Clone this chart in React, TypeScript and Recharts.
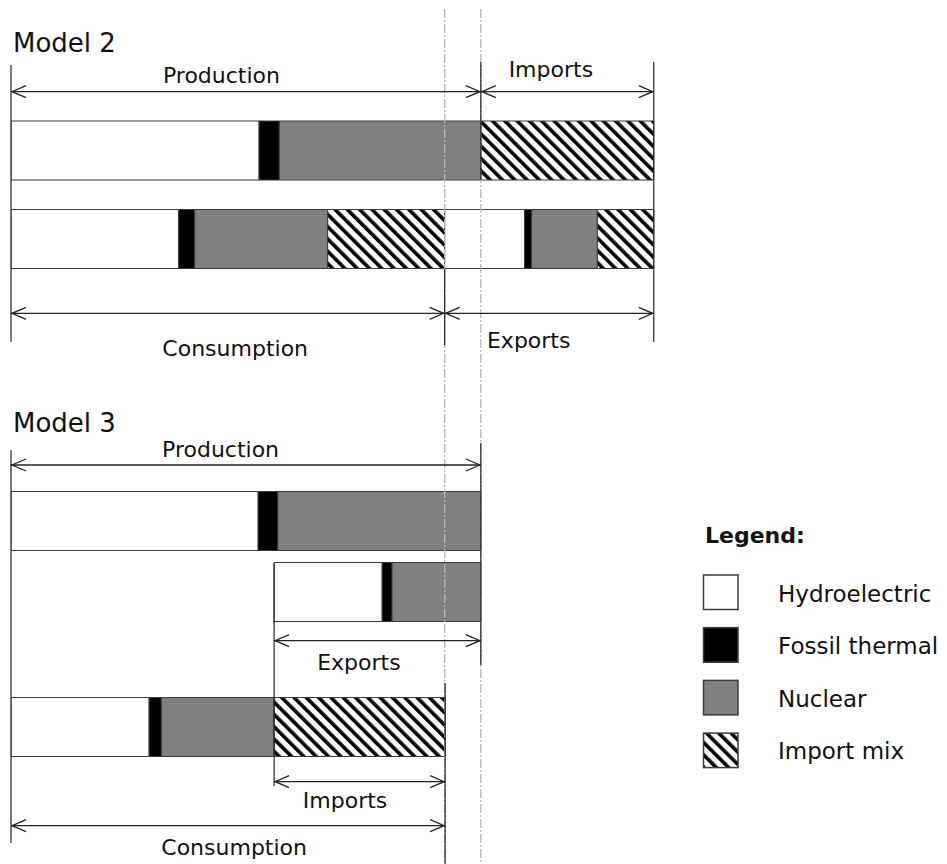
import React from 'react';
import { BarChart, Bar, XAxis, YAxis, ReferenceLine, ReferenceDot, Legend } from 'recharts';

// ---- Data (share of domestic production, production = 100) ----
const SOURCES = ['Hydroelectric', 'Fossil thermal', 'Nuclear', 'Import mix'];

// Model 2
const M2_PRODUCTION = [52.8, 4.3, 42.9]; // hydro, fossil, nuclear
const M2_IMPORTS = [36.8]; // import mix
const M2_CONSUMPTION = [35.7, 3.4, 28.3, 24.9]; // hydro, fossil, nuclear, import mix
const M2_EXPORTS = [17.0, 1.5, 14.0, 12.0];

// Model 3
const M3_PRODUCTION = [52.6, 4.2, 43.2];
const M3_EXPORTS = [23.0, 2.1, 18.9];
const M3_CONSUMPTION = [29.4, 2.6, 24.0, 36.4];

// ---- Derived totals ----
const sum = (a: number[]) => a.reduce((s, v) => s + v, 0);
const m2Prod = sum(M2_PRODUCTION);
const m2Total = m2Prod + sum(M2_IMPORTS);
const m2Cons = sum(M2_CONSUMPTION);
const m3Prod = sum(M3_PRODUCTION);
const m3Dom = sum(M3_CONSUMPTION.slice(0, 3));
const m3Cons = sum(M3_CONSUMPTION);

// ---- Layout (vertical lanes, diagram units) ----
const LANE = {
  m2Title: 5.23,
  m2ProdArrow: 9.17,
  m2Bar1: 15.05,
  m2Bar2: 23.9,
  m2ConsArrow: 31.33,
  m3Title: 43.17,
  m3ProdArrow: 46.5,
  m3Bar1: 52.1,
  m3Bar2: 59.2,
  m3ExpArrow: 64.07,
  m3Bar3: 72.7,
  m3ImpArrow: 78.17,
  m3ConsArrow: 82.57,
};

const rows = [
  {
    lane: LANE.m2Bar1, offset: 0,
    hydro: M2_PRODUCTION[0], fossil: M2_PRODUCTION[1], nuclear: M2_PRODUCTION[2], importmix: M2_IMPORTS[0],
  },
  {
    lane: LANE.m2Bar2, offset: 0,
    hydro: M2_CONSUMPTION[0], fossil: M2_CONSUMPTION[1], nuclear: M2_CONSUMPTION[2], importmix: M2_CONSUMPTION[3],
    hydro2: M2_EXPORTS[0], fossil2: M2_EXPORTS[1], nuclear2: M2_EXPORTS[2], importmix2: M2_EXPORTS[3],
  },
  {
    lane: LANE.m3Bar1, offset: 0,
    hydro: M3_PRODUCTION[0], fossil: M3_PRODUCTION[1], nuclear: M3_PRODUCTION[2], importmix: 0,
  },
  {
    lane: LANE.m3Bar2, offset: m3Dom,
    hydro: M3_EXPORTS[0], fossil: M3_EXPORTS[1], nuclear: M3_EXPORTS[2], importmix: 0,
  },
  {
    lane: LANE.m3Bar3, offset: 0,
    hydro: M3_CONSUMPTION[0], fossil: M3_CONSUMPTION[1], nuclear: M3_CONSUMPTION[2], importmix: M3_CONSUMPTION[3],
  },
];

const arrows = [
  { from: 0, to: m2Prod, lane: LANE.m2ProdArrow, label: 'Production', at: 0.448, dy: -8.7 },
  { from: m2Prod, to: m2Total, lane: LANE.m2ProdArrow, label: 'Imports', at: 0.405, dy: -14.7 },
  { from: 0, to: m2Cons, lane: LANE.m2ConsArrow, label: 'Consumption', at: 0.517, dy: 42.7 },
  { from: m2Cons, to: m2Total, lane: LANE.m2ConsArrow, label: 'Exports', at: 0.402, dy: 35 },
  { from: 0, to: m3Prod, lane: LANE.m3ProdArrow, label: 'Production', at: 0.446, dy: -8 },
  { from: m3Dom, to: m3Prod, lane: LANE.m3ExpArrow, label: 'Exports', at: 0.41, dy: 29.3 },
  { from: m3Dom, to: m3Cons, lane: LANE.m3ImpArrow, label: 'Imports', at: 0.415, dy: 26.3 },
  { from: 0, to: m3Cons, lane: LANE.m3ConsArrow, label: 'Consumption', at: 0.514, dy: 29.5 },
];

const edges = [
  { x: 0, y1: 6.5, y2: 34.2 },
  { x: m2Prod, y1: 6.2, y2: 18.0 },
  { x: m2Total, y1: 6.2, y2: 34.2 },
  { x: m2Cons, y1: 26.9, y2: 34.5 },
  { x: 0, y1: 45.0, y2: 84.3 },
  { x: m3Prod, y1: 44.3, y2: 66.5 },
  { x: m3Dom, y1: 56.3, y2: 78.6 },
  { x: m3Cons, y1: 68.3, y2: 86.4 },
];

const guides = [m2Cons, m2Prod];
const titles = [
  { text: 'Model 2', lane: LANE.m2Title },
  { text: 'Model 3', lane: LANE.m3Title },
];

const INK = '#222';
const EDGE = '#3a3a3a';
const FONT = '"DejaVu Sans", Arial, sans-serif';
const FILLS = ['#ffffff', '#000000', '#808080', 'url(#hatch)'];
const KEYS = ['hydro', 'fossil', 'nuclear', 'importmix'];

const renderArrow = (a: any) => (p: any) => {
  const { x1, y1, x2 } = p;
  const y = y1;
  const L = 15;
  const H = 6;
  return (
    <g>
      <line x1={x1} y1={y} x2={x2} y2={y} stroke={INK} strokeWidth={1.3} />
      <polyline points={`${x1 + L},${y - H} ${x1 + 1},${y} ${x1 + L},${y + H}`} fill="none" stroke={INK} strokeWidth={1.3} />
      <polyline points={`${x2 - L},${y - H} ${x2 - 1},${y} ${x2 - L},${y + H}`} fill="none" stroke={INK} strokeWidth={1.3} />
      <text x={x1 + a.at * (x2 - x1)} y={y + a.dy} textAnchor="middle" fontFamily={FONT} fontSize={22} fill="#111">
        {a.label}
      </text>
    </g>
  );
};

const renderLegend = (props: any) => {
  const items = (props.payload || [])
    .filter((e: any) => e.type !== 'none' && SOURCES.indexOf(e.value) >= 0)
    .sort((a: any, b: any) => SOURCES.indexOf(a.value) - SOURCES.indexOf(b.value));
  return (
    <svg width={257} height={280} style={{ display: 'block' }}>
      <text x={15} y={33} fontFamily={FONT} fontSize={22} fontWeight="bold" fill="#111">Legend:</text>
      {items.map((e: any, i: number) => (
        <g key={e.value}>
          <rect x={13.5} y={65 + i * 52.7} width={34.5} height={34.5} fill={e.color} stroke={EDGE} strokeWidth={1.5} />
          <text x={88} y={92 + i * 52.3} fontFamily={FONT} fontSize={23} fill="#111">{e.value}</text>
        </g>
      ))}
    </svg>
  );
};

export default function App() {
  return (
    <div style={{ position: 'absolute', left: 0, top: 0, width: 947, height: 864, background: '#fff' }}>
      <BarChart
        width={947}
        height={864}
        data={rows}
        layout="vertical"
        barSize={59}
        margin={{ top: 0, right: 1, bottom: 0, left: 11 }}
      >
        <defs>
          <pattern id="hatch" patternUnits="userSpaceOnUse" width={8.7} height={8.7} patternTransform="rotate(-45)">
            <rect width={8.7} height={8.7} fill="#fff" />
            <rect width={3.6} height={8.7} fill="#000" />
          </pattern>
        </defs>
        <XAxis type="number" domain={[0, 199]} hide allowDataOverflow />
        <YAxis type="number" dataKey="lane" domain={[0, 86.4]} hide allowDataOverflow />
        <Bar dataKey="offset" stackId="a" fill="transparent" stroke="none" legendType="none" isAnimationActive={false} />
        {KEYS.map((k, i) => (
          <Bar key={k} dataKey={k} name={SOURCES[i]} stackId="a" fill={FILLS[i]} stroke={EDGE} strokeWidth={1} isAnimationActive={false} />
        ))}
        {KEYS.map((k, i) => (
          <Bar key={k + '2'} dataKey={k + '2'} name={SOURCES[i] + ' (exported)'} stackId="a" fill={FILLS[i]} stroke={EDGE} strokeWidth={1} legendType="none" isAnimationActive={false} />
        ))}
        {guides.map((g, i) => (
          <ReferenceLine key={'g' + i} segment={[{ x: g, y: 0.9 }, { x: g, y: 86.4 }]} stroke="#b4b4b4" strokeWidth={1.3} strokeDasharray="9 2 2 2" ifOverflow="visible" />
        ))}
        {edges.map((e, i) => (
          <ReferenceLine key={'e' + i} segment={[{ x: e.x, y: e.y1 }, { x: e.x, y: e.y2 }]} stroke={INK} strokeWidth={1.2} ifOverflow="visible" />
        ))}
        {arrows.map((a, i) => (
          <ReferenceLine key={'a' + i} segment={[{ x: a.from, y: a.lane }, { x: a.to, y: a.lane }]} ifOverflow="visible" shape={renderArrow(a)} />
        ))}
        {titles.map((t) => (
          <ReferenceDot
            key={t.text}
            x={0}
            y={t.lane}
            r={0}
            ifOverflow="visible"
            shape={(p: any) => (
              <text x={p.cx + 2} y={p.cy} fontFamily={FONT} fontSize={26} fill="#111">{t.text}</text>
            )}
          />
        ))}
        <Legend
          layout="vertical"
          align="center"
          verticalAlign="middle"
          wrapperStyle={{ left: 690, top: 510, width: 257, height: 280 }}
          content={renderLegend}
        />
      </BarChart>
    </div>
  );
}
